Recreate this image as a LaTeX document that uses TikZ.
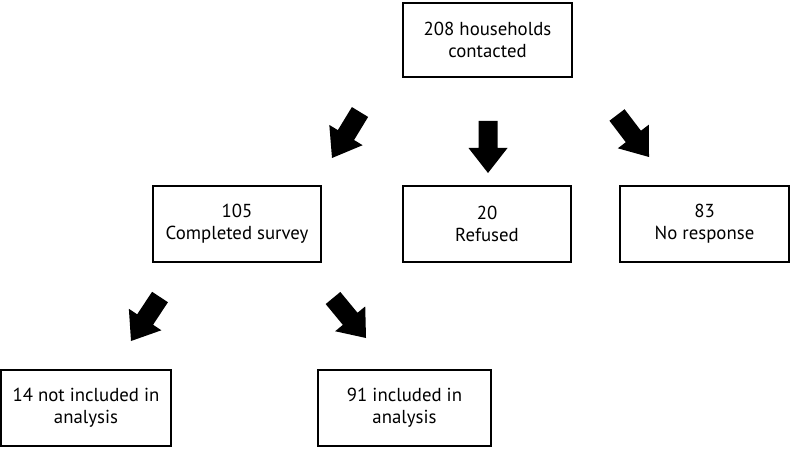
\documentclass[tikz,border=0pt]{standalone}
\usepackage{fontspec}
\setmainfont{PT Sans}
\usetikzlibrary{calc}
\tikzset{
  box/.style={draw=black, line width=2pt, minimum height=76pt, inner sep=0pt,
    align=center, font=\fontsize{18.8}{22}\selectfont, text=black},
}
\newcommand{\blockarr}[2]{%
  \fill[black] ($(#1)!9.5pt!90:(#2)$) -- ($($(#1)!27pt!(#2)$)!9.5pt!90:(#2)$)
    -- ($($(#1)!27pt!(#2)$)!19.5pt!90:(#2)$) -- (#2)
    -- ($($(#1)!27pt!(#2)$)!19.5pt!-90:(#2)$) -- ($($(#1)!27pt!(#2)$)!9.5pt!-90:(#2)$)
    -- ($(#1)!9.5pt!-90:(#2)$) -- cycle;}
\begin{document}
\begin{tikzpicture}[x=1pt,y=-1pt]
\useasboundingbox (0,0) rectangle (791,449);
\node[box, minimum width=169pt, minimum height=74pt] (top) at (487.5,40) {208 households\\contacted};
\node[box, minimum width=168pt] (comp) at (237,224) {105\\Completed survey};
\node[box, minimum width=168pt] (ref) at (487,224) {20\\Refused};
\node[box, minimum width=169pt] (nores) at (704.5,224) {83\\No response};
\node[box, minimum width=170pt] (notinc) at (86,408) {14 not included in\\analysis};
\node[box, minimum width=173pt] (inc) at (404.5,408) {91 included in\\analysis};
% arrows
\coordinate (a1s) at (360,112); \coordinate (a1e) at (332,158);
\coordinate (a2s) at (488,121); \coordinate (a2e) at (488,173);
\coordinate (a3s) at (617,115); \coordinate (a3e) at (649,157);
\coordinate (a4s) at (160,297); \coordinate (a4e) at (131,341);
\coordinate (a5s) at (333,298); \coordinate (a5e) at (366,338);
\blockarr{a1s}{a1e}
\blockarr{a2s}{a2e}
\blockarr{a3s}{a3e}
\blockarr{a4s}{a4e}
\blockarr{a5s}{a5e}
\end{tikzpicture}
\end{document}
